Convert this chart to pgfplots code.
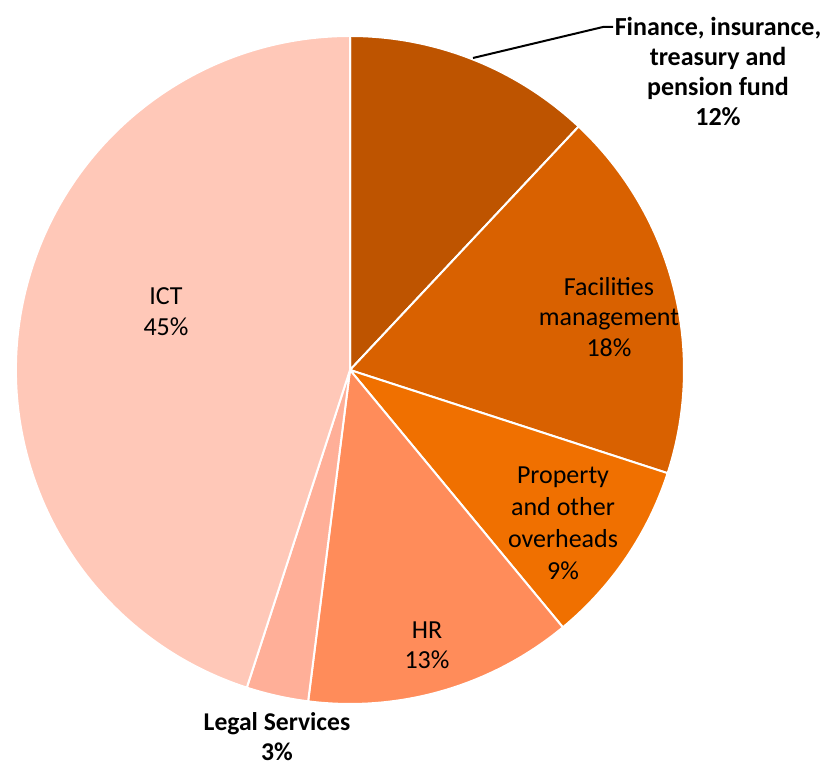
\documentclass[border=0pt]{standalone}
\usepackage{pgfplots}
\pgfplotsset{compat=1.18}
\usepackage{fontspec}
\setmainfont{Carlito}
\definecolor{cFin}{HTML}{BE5400}
\definecolor{cFac}{HTML}{D96100}
\definecolor{cProp}{HTML}{F07000}
\definecolor{cHR}{HTML}{FF8C5A}
\definecolor{cLeg}{HTML}{FFAF98}
\definecolor{cICT}{HTML}{FFC8B8}
\begin{document}
\begin{tikzpicture}
\begin{axis}[x=0.5pt,y=0.5pt,xmin=0,xmax=832,ymin=0,ymax=770,
  hide axis,clip=false,scale only axis]
\coordinate (BL) at (axis cs:0,0);
\coordinate (TR) at (axis cs:832,770);
% values (percent): Finance 12, Facilities 18, Property 9, HR 13, Legal 3, ICT 45
\def\R{167pt}
\fill[cFin,draw=white,line width=1pt] (axis cs:350,400) -- ++(90-0*3.6:\R) arc[start angle=90-0*3.6, delta angle=-12*3.6, radius=\R] -- cycle;
\fill[cFac,draw=white,line width=1pt] (axis cs:350,400) -- ++(90-12*3.6:\R) arc[start angle=90-12*3.6, delta angle=-18*3.6, radius=\R] -- cycle;
\fill[cProp,draw=white,line width=1pt] (axis cs:350,400) -- ++(90-30*3.6:\R) arc[start angle=90-30*3.6, delta angle=-9*3.6, radius=\R] -- cycle;
\fill[cHR,draw=white,line width=1pt] (axis cs:350,400) -- ++(90-39*3.6:\R) arc[start angle=90-39*3.6, delta angle=-13*3.6, radius=\R] -- cycle;
\fill[cLeg,draw=white,line width=1pt] (axis cs:350,400) -- ++(90-52*3.6:\R) arc[start angle=90-52*3.6, delta angle=-3*3.6, radius=\R] -- cycle;
\fill[cICT,draw=white,line width=1pt] (axis cs:350,400) -- ++(90-55*3.6:\R) arc[start angle=90-55*3.6, delta angle=-45*3.6, radius=\R] -- cycle;
% leader line
\draw[black,line width=1pt] (axis cs:473,712) -- (axis cs:603,743) -- (axis cs:613,743);
\node[align=center,font=\fontsize{13}{15}\selectfont\bfseries] at (axis cs:718,699) {Finance, insurance,\\treasury and\\pension fund\\12\%};
\node[align=center,font=\fontsize{12.8}{15}\selectfont\bfseries] at (axis cs:277,33) {Legal Services\\3\%};
\node[align=center,font=\fontsize{13}{15.3}\selectfont] at (axis cs:609,453) {Facilities\\management\\18\%};
\node[align=center,font=\fontsize{13}{16}\selectfont] at (axis cs:563,247) {Property\\and other\\overheads\\9\%};
\node[align=center,font=\fontsize{13}{15}\selectfont] at (axis cs:427,125) {HR\\13\%};
\node[align=center,font=\fontsize{13}{15.5}\selectfont] at (axis cs:166,458) {ICT\\45\%};
\end{axis}
\pgfresetboundingbox
\path[use as bounding box] (BL) rectangle (TR);
\end{tikzpicture}
\end{document}
